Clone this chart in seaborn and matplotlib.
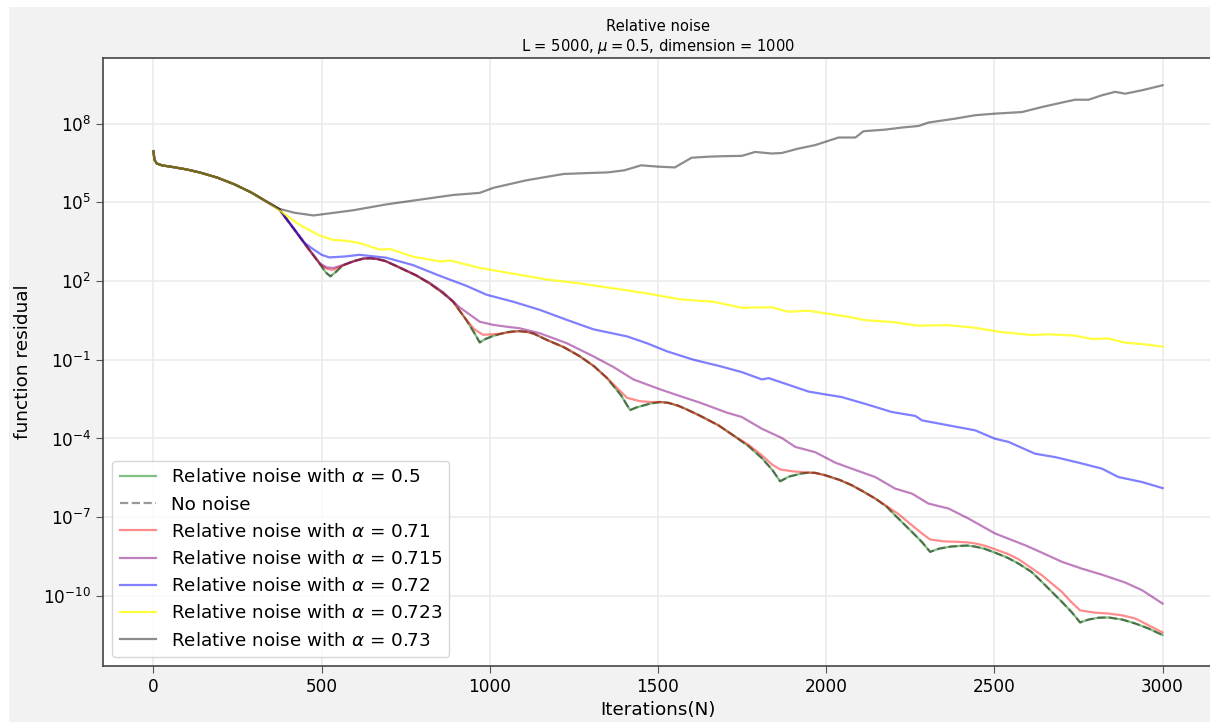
import numpy as np
import matplotlib
matplotlib.use("Agg")
import matplotlib.pyplot as plt
from matplotlib.patches import Rectangle
from matplotlib.ticker import NullLocator
import seaborn as sns

# ---- data: iteration number and log10 of the function residual ----
# shared start of every run (all curves coincide here)
head_iters = [0, 3, 10, 25, 60, 100, 140, 190, 240, 290, 340]
head_log = [6.95, 6.62, 6.48, 6.41, 6.34, 6.25, 6.13, 5.94, 5.69, 5.38, 5.00]

# relative noise, alpha = 0.5
iters_a050 = [375, 420, 456, 496, 513, 526, 540, 563, 595, 625, 645, 665, 690, 722, 750,
              780, 821, 860, 891, 930, 955, 970, 985, 1010, 1050, 1070, 1089, 1110, 1130,
              1169, 1220, 1268, 1310, 1348, 1390, 1417, 1435, 1457, 1480, 1507, 1530,
              1560, 1590, 1626, 1680, 1726, 1770, 1809, 1840, 1863, 1890, 1928, 1950,
              1967, 1997, 2040, 2076, 2110, 2146, 2180, 2205, 2255, 2285, 2309, 2335,
              2370, 2403, 2420, 2443, 2470, 2502, 2540, 2572, 2610, 2641, 2701, 2730,
              2755, 2780, 2810, 2839, 2880, 2919, 2960, 3000]
log_a050 = [4.72, 3.94, 3.31, 2.63, 2.32, 2.18, 2.32, 2.60, 2.76, 2.86, 2.87, 2.84, 2.76,
            2.57, 2.40, 2.22, 1.91, 1.55, 1.21, 0.52, 0.0, -0.34, -0.22, -0.09, 0.05,
            0.08, 0.09, 0.06, 0.0, -0.24, -0.52, -0.87, -1.25, -1.69, -2.35, -2.92, -2.82,
            -2.74, -2.66, -2.61, -2.64, -2.75, -2.92, -3.14, -3.50, -3.90, -4.30, -4.75,
            -5.20, -5.63, -5.45, -5.33, -5.30, -5.31, -5.40, -5.58, -5.78, -6.02, -6.29,
            -6.60, -6.93, -7.56, -7.95, -8.32, -8.20, -8.12, -8.09, -8.08, -8.12, -8.20,
            -8.35, -8.55, -8.77, -9.08, -9.46, -10.23, -10.62, -11.01, -10.90, -10.83,
            -10.82, -10.90, -11.05, -11.25, -11.49]

# no noise (runs on top of the alpha = 0.5 curve)
iters_none = [375, 420, 456, 496, 513, 526, 540, 563, 595, 625, 645, 665, 690, 722, 750,
              780, 821, 860, 891, 930, 955, 970, 985, 1010, 1050, 1070, 1089, 1110, 1130,
              1169, 1220, 1268, 1310, 1348, 1390, 1417, 1435, 1457, 1480, 1507, 1530,
              1560, 1590, 1626, 1680, 1726, 1770, 1809, 1840, 1863, 1890, 1928, 1950,
              1967, 1997, 2040, 2076, 2110, 2146, 2180, 2205, 2255, 2285, 2309, 2335,
              2370, 2403, 2420, 2443, 2470, 2502, 2540, 2572, 2610, 2641, 2701, 2730,
              2755, 2780, 2810, 2839, 2880, 2919, 2960, 3000]
log_none = [4.72, 3.94, 3.31, 2.63, 2.32, 2.18, 2.32, 2.60, 2.76, 2.86, 2.87, 2.84, 2.76,
            2.57, 2.40, 2.22, 1.91, 1.55, 1.21, 0.52, 0.0, -0.34, -0.22, -0.09, 0.05,
            0.08, 0.09, 0.06, 0.0, -0.24, -0.52, -0.87, -1.25, -1.69, -2.35, -2.92, -2.82,
            -2.74, -2.66, -2.61, -2.64, -2.75, -2.92, -3.14, -3.50, -3.90, -4.30, -4.75,
            -5.20, -5.63, -5.45, -5.33, -5.30, -5.31, -5.40, -5.58, -5.78, -6.02, -6.29,
            -6.60, -6.93, -7.56, -7.95, -8.32, -8.20, -8.12, -8.09, -8.08, -8.12, -8.20,
            -8.35, -8.55, -8.77, -9.08, -9.46, -10.23, -10.62, -11.01, -10.90, -10.83,
            -10.82, -10.90, -11.05, -11.25, -11.49]

# relative noise, alpha = 0.71
iters_a071 = [375, 420, 456, 496, 515, 533, 556, 595, 625, 645, 665, 690, 722, 750, 780,
              821, 860, 891, 930, 955, 980, 1030, 1070, 1089, 1110, 1130, 1169, 1220,
              1268, 1310, 1348, 1390, 1408, 1447, 1480, 1507, 1530, 1560, 1590, 1626,
              1680, 1726, 1770, 1805, 1840, 1863, 1900, 1928, 1950, 1967, 1997, 2040,
              2076, 2110, 2146, 2180, 2215, 2255, 2285, 2309, 2350, 2394, 2420, 2443,
              2470, 2502, 2540, 2572, 2641, 2701, 2730, 2755, 2800, 2839, 2880, 2919, 3000]
log_a071 = [4.72, 3.94, 3.31, 2.63, 2.47, 2.42, 2.55, 2.75, 2.86, 2.87, 2.84, 2.76, 2.57,
            2.40, 2.22, 1.91, 1.55, 1.21, 0.52, 0.15, -0.05, -0.01, 0.07, 0.09, 0.06, 0.0,
            -0.24, -0.52, -0.87, -1.25, -1.69, -2.22, -2.45, -2.58, -2.61, -2.61, -2.64,
            -2.75, -2.92, -3.14, -3.50, -3.90, -4.25, -4.60, -5.00, -5.18, -5.25, -5.28,
            -5.30, -5.31, -5.40, -5.58, -5.78, -6.02, -6.29, -6.58, -6.88, -7.31, -7.62,
            -7.85, -7.92, -7.94, -7.96, -8.00, -8.08, -8.22, -8.40, -8.60, -9.21, -9.85,
            -10.25, -10.55, -10.64, -10.67, -10.74, -10.86, -11.39]

# relative noise, alpha = 0.715
iters_a0715 = [375, 420, 456, 496, 515, 535, 556, 595, 625, 645, 665, 690, 722, 750, 780,
               821, 861, 910, 970, 1010, 1050, 1089, 1149, 1229, 1308, 1368, 1427, 1507,
               1567, 1626, 1706, 1749, 1809, 1868, 1908, 1967, 2027, 2076, 2146, 2205,
               2255, 2304, 2364, 2423, 2502, 2592, 2641, 2701, 2760, 2820, 2889, 2939, 3000]
log_a0715 = [4.72, 3.94, 3.32, 2.66, 2.52, 2.50, 2.58, 2.75, 2.86, 2.87, 2.84, 2.76, 2.58,
             2.41, 2.23, 1.93, 1.58, 1.00, 0.45, 0.33, 0.26, 0.20, 0.01, -0.37, -0.87,
             -1.28, -1.75, -2.13, -2.39, -2.64, -3.02, -3.18, -3.63, -3.98, -4.32, -4.52,
             -4.92, -5.15, -5.47, -5.91, -6.10, -6.48, -6.67, -7.05, -7.62, -8.07, -8.35,
             -8.70, -8.96, -9.19, -9.49, -9.78, -10.29]

# relative noise, alpha = 0.72
iters_a072 = [375, 420, 450, 473, 500, 523, 573, 612, 692, 771, 851, 930, 990, 1070, 1149,
              1229, 1308, 1408, 1467, 1527, 1606, 1686, 1749, 1809, 1829, 1878, 1947,
              1997, 2046, 2116, 2195, 2265, 2285, 2364, 2443, 2502, 2542, 2621, 2681,
              2750, 2820, 2869, 2939, 3000]
log_a072 = [4.72, 3.96, 3.45, 3.23, 3.00, 2.90, 2.94, 3.00, 2.89, 2.61, 2.20, 1.82, 1.48,
            1.21, 0.90, 0.52, 0.16, -0.11, -0.37, -0.68, -1.00, -1.25, -1.47, -1.75,
            -1.70, -1.91, -2.21, -2.32, -2.42, -2.68, -2.99, -3.14, -3.31, -3.50, -3.69,
            -4.01, -4.13, -4.58, -4.71, -4.92, -5.15, -5.47, -5.66, -5.89]

# relative noise, alpha = 0.723
iters_a0723 = [380, 433, 493, 533, 575, 612, 672, 704, 771, 851, 883, 970, 1070, 1169,
               1268, 1368, 1467, 1567, 1666, 1749, 1838, 1888, 1947, 1997, 2066, 2115,
               2195, 2274, 2363, 2443, 2512, 2611, 2661, 2740, 2790, 2839, 2889, 2939, 3000]
log_a0723 = [4.65, 4.15, 3.74, 3.57, 3.53, 3.45, 3.20, 3.22, 2.93, 2.75, 2.78, 2.50, 2.28,
             2.06, 1.91, 1.72, 1.53, 1.30, 1.21, 0.98, 1.00, 0.83, 0.87, 0.77, 0.64, 0.51,
             0.44, 0.30, 0.32, 0.22, 0.07, -0.06, -0.03, -0.08, -0.21, -0.19, -0.35,
             -0.40, -0.50]

# relative noise, alpha = 0.73
iters_a073 = [375, 420, 476, 536, 595, 692, 791, 891, 970, 1010, 1109, 1219, 1300, 1350,
              1400, 1450, 1500, 1550, 1600, 1650, 1700, 1749, 1789, 1838, 1868, 1918,
              1967, 2037, 2087, 2111, 2175, 2225, 2275, 2304, 2384, 2443, 2502, 2582,
              2641, 2700, 2740, 2780, 2820, 2859, 2889, 2939, 3000]
log_a073 = [4.75, 4.60, 4.50, 4.60, 4.70, 4.92, 5.10, 5.28, 5.36, 5.55, 5.84, 6.08, 6.12,
            6.14, 6.22, 6.41, 6.36, 6.33, 6.70, 6.74, 6.76, 6.77, 6.92, 6.86, 6.88, 7.05,
            7.18, 7.47, 7.47, 7.71, 7.77, 7.85, 7.91, 8.04, 8.19, 8.32, 8.38, 8.44, 8.63,
            8.80, 8.91, 8.91, 9.08, 9.21, 9.14, 9.27, 9.46]

x_ticks = [0, 500, 1000, 1500, 2000, 2500, 3000]
y_ticks = [1e-10, 1e-7, 1e-4, 1e-1, 1e2, 1e5, 1e8]

series = [
    (iters_a050, log_a050, dict(color="green", alpha=0.5,
                                label=r"Relative noise with $\alpha$ = 0.5")),
    (iters_none, log_none, dict(color="black", alpha=0.4, linestyle="--",
                                label="No noise")),
    (iters_a071, log_a071, dict(color="red", alpha=0.45,
                                label=r"Relative noise with $\alpha$ = 0.71")),
    (iters_a0715, log_a0715, dict(color="purple", alpha=0.5,
                                  label=r"Relative noise with $\alpha$ = 0.715")),
    (iters_a072, log_a072, dict(color="blue", alpha=0.5,
                                label=r"Relative noise with $\alpha$ = 0.72")),
    (iters_a0723, log_a0723, dict(color="yellow", alpha=0.75,
                                  label=r"Relative noise with $\alpha$ = 0.723")),
    (iters_a073, log_a073, dict(color="black", alpha=0.45,
                                label=r"Relative noise with $\alpha$ = 0.73")),
]

plt.rcParams["font.family"] = ["DejaVu Sans"]

fig = plt.figure(figsize=(12.1, 7.22), dpi=100, facecolor="white")
# grey canvas behind the plot, leaving a thin white frame at top and left
fig.add_artist(Rectangle((9 / 1210, 0), 1.0, 715 / 722, transform=fig.transFigure,
                         facecolor="#f2f2f2", edgecolor="none", zorder=-10))
ax = fig.add_axes([103 / 1210, 56 / 722, 1110 / 1210, 608 / 722])
ax.set_facecolor("white")

for iters, logs, style in series:
    x = np.array(head_iters + iters, dtype=float)
    y = np.power(10.0, np.array(head_log + logs))
    sns.lineplot(x=x, y=y, ax=ax, linewidth=1.6, sort=False, **style)

ax.set_yscale("log")
ax.set_xlim(-150, 3150)
ax.set_ylim(10 ** -12.67, 10 ** 10.5)
ax.set_xticks(x_ticks)
ax.set_yticks(y_ticks)
ax.yaxis.set_minor_locator(NullLocator())
ax.grid(True, color="#ebebeb", linewidth=1.2)
ax.set_axisbelow(True)

ax.tick_params(labelsize=12.2, color="#555555", length=5)
for side in ax.spines.values():
    side.set_color("#444444")
    side.set_linewidth(1.2)

ax.set_title("Relative noise\nL = 5000, $\\mu = 0.5$, dimension = 1000",
             fontsize=10.6, pad=5)
ax.set_xlabel("Iterations(N)", fontsize=13.2)
ax.set_ylabel("function residual", fontsize=13.3, labelpad=8)

ax.legend(loc="lower left", fontsize=13.2)

fig.savefig("out.png", dpi=100, facecolor=fig.get_facecolor())
